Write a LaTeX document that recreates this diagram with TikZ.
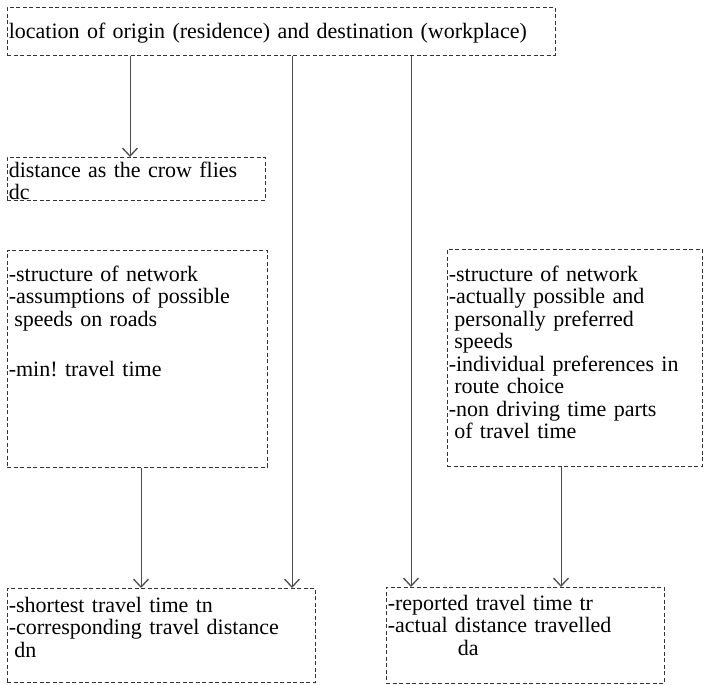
\documentclass[tikz,border=0pt]{standalone}
\usepackage{fontspec}
\setmainfont{Liberation Serif}
\frenchspacing
\usetikzlibrary{positioning}
\usetikzlibrary{arrows.meta,calc}
\tikzset{
    flow/.style={x=1pt,y=-1pt,font=\fontsize{22}{22.5}\selectfont},
    infobox/.style={draw=black!80, dash pattern=on 4pt off 2.5pt, line width=0.6pt,
                     anchor=north west, inner xsep=1.5pt, inner ysep=0pt, align=left},
    link/.style={-{Straight Barb[length=8pt,width=15pt,line width=1.3pt]}, draw=black!70, line width=0.7pt},
    }

\begin{document}
\begin{tikzpicture}[flow]
            \useasboundingbox (0,0) rectangle (710,685);
            \node[infobox, text width=545pt, text height=31pt, text depth=17pt] (loc) at (7,7)
                {location of origin (residence) and destination (workplace)};
            \node[infobox, text width=255pt, text height=20pt, text depth=23pt] (crow) at (7,157)
                {distance as the crow flies\\dc};
            \node[infobox, text width=257pt, text height=31pt, text depth=186pt] (netmin) at (7,250)
                {-structure of network\\-assumptions of possible\\\hspace*{0.25em}speeds on roads\\[28pt]-min! travel time};
            \node[infobox, text width=252pt, text height=32pt, text depth=185pt] (netreal) at (447,249)
                {-structure of network\\-actually possible and\\\hspace*{0.25em}personally preferred\\\hspace*{0.25em}speeds\\-individual preferences in\\\hspace*{0.25em}route choice\\-non driving time parts\\\hspace*{0.25em}of travel time};
            \node[infobox, text width=305pt, text height=24pt, text depth=70pt] (shortest) at (7,588)
                {-shortest travel time tn\\-corresponding travel distance\\\hspace*{0.25em}dn};
            \node[infobox, text width=275pt, text height=23pt, text depth=73pt] (reported) at (386,587)
                {-reported travel time tr\\-actual distance travelled\\\hspace*{70pt}da};

            
            \draw[link] ([xshift=123pt]loc.south west) -- ([xshift=123pt]loc.south west |- crow.north);
            \draw[link] ([xshift=285pt]loc.south west) -- ([xshift=285pt]loc.south west |- shortest.north);
            \draw[link] ([xshift=404pt]loc.south west) -- ([xshift=404pt]loc.south west |- reported.north);
            \draw[link] ([xshift=134pt]netmin.south west) -- ([xshift=134pt]netmin.south west |- shortest.north);
            \draw[link] ([xshift=114pt]netreal.south west) -- ([xshift=114pt]netreal.south west |- reported.north);
        \end{tikzpicture}
\end{document}
